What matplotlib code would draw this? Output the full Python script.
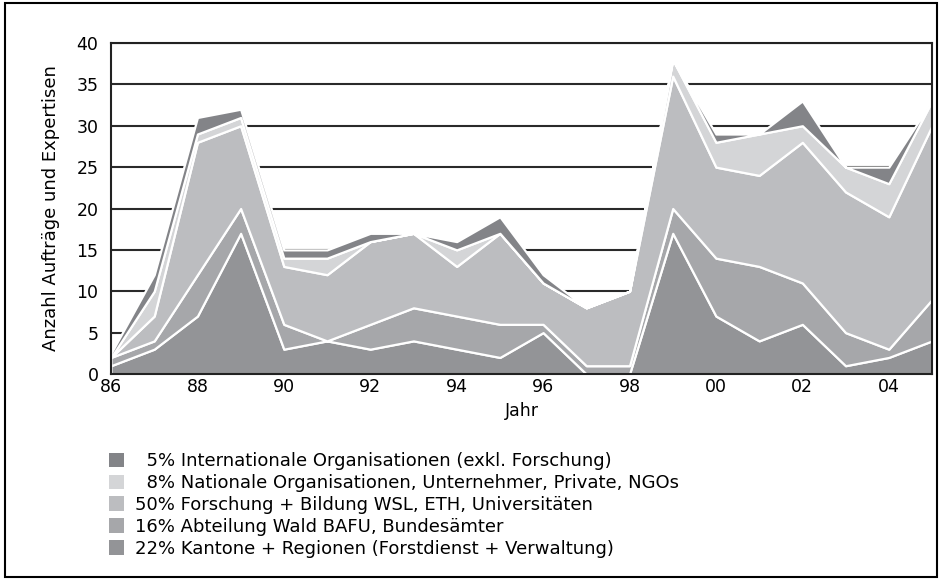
import numpy as np
import matplotlib.pyplot as plt
from matplotlib.patches import Rectangle

# Data (counts per year, stacked bottom -> top)
years = list(range(1986, 2006))
kantone = [1, 3, 7, 17, 3, 4, 3, 4, 3, 2, 5, 0, 0, 17, 7, 4, 6, 1, 2, 4]
wald = [1, 1, 5, 3, 3, 0, 3, 4, 4, 4, 1, 1, 1, 3, 7, 9, 5, 4, 1, 5]
forschung = [0, 3, 16, 10, 7, 8, 10, 9, 6, 11, 5, 7, 9, 16, 11, 11, 17, 17, 16, 21]
national = [0, 3, 1, 1, 1, 2, 0, 0, 2, 0, 0, 0, 0, 2, 3, 5, 2, 3, 4, 3]
international = [0.5, 2, 2, 1, 1, 1, 1, 0, 1, 2, 1, 0, 0, 0, 1, 0, 3, 0, 2, 0]

labels = [
    "22% Kantone + Regionen (Forstdienst + Verwaltung)",
    "16% Abteilung Wald BAFU, Bundesämter",
    "50% Forschung + Bildung WSL, ETH, Universitäten",
    "  8% Nationale Organisationen, Unternehmer, Private, NGOs",
    "  5% Internationale Organisationen (exkl. Forschung)",
]
colors = ["#939497", "#a6a7aa", "#bcbdc0", "#d4d5d7", "#838488"]
xticks = list(range(1986, 2005, 2))
xticklabels = ["%02d" % (y % 100) for y in xticks]

fig = plt.figure(figsize=(9.42, 5.79), dpi=100)
ax = fig.add_axes([111 / 942, 1 - 374 / 579, 821 / 942, 331 / 579])

polys = ax.stackplot(years, kantone, wald, forschung, national, international,
                     colors=colors, edgecolor="white", linewidth=1.6, labels=labels)

ax.set_xlim(1986, 2005)
ax.set_ylim(0, 40)
ax.set_yticks(range(0, 41, 5))
ax.set_xticks(xticks)
ax.set_xticklabels(xticklabels)
ax.tick_params(axis="y", length=0, labelsize=12.5, pad=9)
ax.tick_params(axis="x", length=0, labelsize=12.5, pad=3)
ax.yaxis.grid(True, color="#2a2a2a", linewidth=1.5)
ax.set_axisbelow(True)
for s in ax.spines.values():
    s.set_linewidth(1.5)
    s.set_color("#222222")
    s.set_zorder(5)

ax.set_xlabel("Jahr", fontsize=12.5, labelpad=4)
ax.set_ylabel("Anzahl Aufträge und Expertisen", fontsize=13, labelpad=12)

# legend, top entry first
handles = polys[::-1]
fig.legend(handles, labels[::-1], loc="upper left",
           bbox_to_anchor=(109 / 942, 1 - 452 / 579), frameon=False,
           fontsize=13, handlelength=0.85, handleheight=0.85, handletextpad=0.6,
           labelspacing=0.22, borderpad=0, borderaxespad=0)
for h in fig.legends[0].legend_handles:
    h.set_edgecolor("none")

# outer frame
fig.patches.append(Rectangle((0.005, 0.004), 0.99, 0.99, transform=fig.transFigure,
                             fill=False, edgecolor="black", linewidth=1.5))

fig.savefig("out.png", dpi=100)
